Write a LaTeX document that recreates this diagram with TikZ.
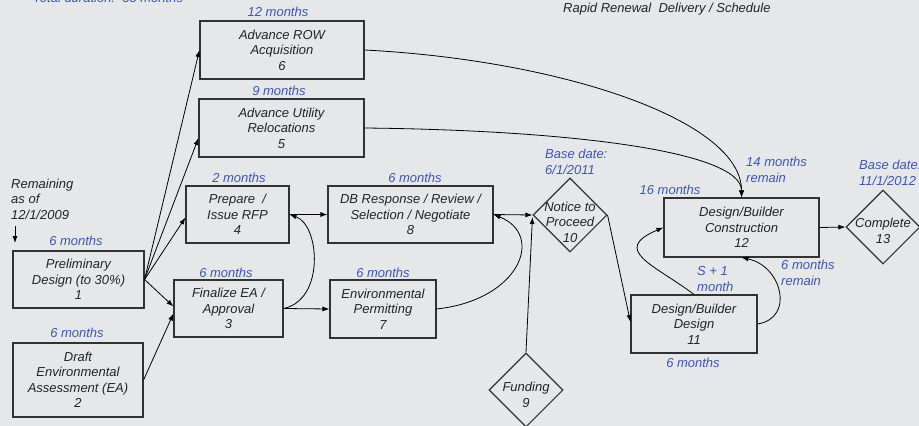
\documentclass[tikz,border=0pt]{standalone}
\usepackage{fontspec}
\setmainfont{Liberation Sans}
\usetikzlibrary{arrows.meta,shapes.geometric}
\definecolor{bg}{RGB}{230,231,233}
\definecolor{lblue}{RGB}{60,86,178}
\definecolor{ink}{RGB}{35,35,35}
\definecolor{edge}{RGB}{50,50,50}
\tikzset{
  txt/.style={font=\fontsize{13}{15.5}\selectfont\itshape, text=ink, align=center, inner sep=0pt},
  lbl/.style={font=\fontsize{13}{15.5}\selectfont\itshape, text=lblue, align=center, inner sep=0pt},
  lbll/.style={font=\fontsize{13}{15.5}\selectfont\itshape, text=lblue, align=left, inner sep=0pt, anchor=west},
  box/.style={txt, draw=edge, line width=1.1pt},
  dia/.style={draw=edge, line width=1.1pt, shape=diamond, minimum width=74pt, minimum height=74pt, inner sep=0pt},
  arr/.style={draw=black, line width=0.8pt, -{Latex[length=7pt,width=5pt]}},
  ln/.style={draw=black, line width=0.8pt}
}
\begin{document}
\begin{tikzpicture}[x=1pt,y=-1pt]
\fill[bg] (0,0) rectangle (919,426);
\useasboundingbox (0,0) rectangle (919,426);

% header texts
\node[lbl, anchor=base west] (total) at (33,2.5) {Total duration:\ \ 35 months};
\node[txt, anchor=base west] (title) at (563,12) {Rapid Renewal\ \ Delivery / Schedule};

% boxes
\node[box, minimum width=164pt, minimum height=58pt] (b6) at (282,50) {Advance ROW\\Acquisition\\6};
\node[box, minimum width=165pt, minimum height=58pt] (b5) at (281.5,128) {Advance Utility\\Relocations\\5};
\node[box, minimum width=103pt, minimum height=57pt] (b4) at (237.5,214.5) {Prepare\ \ /\\Issue RFP\\4};
\node[box, minimum width=109pt, minimum height=57pt] (b3) at (228.5,308.5) {Finalize EA /\\Approval\\3};
\node[box, minimum width=131pt, minimum height=57pt] (b1) at (78.5,279.5) {Preliminary\\Design (to 30\%)\\1};
\node[box, minimum width=130pt, minimum height=74pt] (b2) at (78,380) {Draft\\Environmental\\Assessment (EA)\\2};
\node[box, minimum width=165pt, minimum height=57pt] (b8) at (410.5,214.5) {DB Response / Review /\\Selection / Negotiate\\8};
\node[box, minimum width=106pt, minimum height=58pt] (b7) at (383,309) {Environmental\\Permitting\\7};
\node[box, minimum width=126pt, minimum height=58pt] (b11) at (694,324) {Design/Builder\\Design\\11};
\node[box, minimum width=155pt, minimum height=59pt] (b12) at (741.5,227.5) {Design/Builder\\Construction\\12};

% diamonds
\node[dia] (d10) at (570,215) {};
\node[txt] (t10) at (570,222) {Notice to\\Proceed\\10};
\node[dia] (d9) at (526,390) {};
\node[txt] (t9) at (526,395) {Funding\\9};
\node[dia] (d13) at (883,227) {};
\node[txt] (t13) at (883,231) {Complete\\13};

% duration labels
\node[lbl] (l6) at (278,12) {12 months};
\node[lbl] (l5) at (279,91) {9 months};
\node[lbl] (l4) at (239,178) {2 months};
\node[lbl] (l3) at (226,273) {6 months};
\node[lbl] (l1) at (76,241) {6 months};
\node[lbl] (l2) at (77,333) {6 months};
\node[lbl] (l8) at (415,178) {6 months};
\node[lbl] (l7) at (383,273) {6 months};
\node[lbl] (l12) at (670,190) {16 months};
\node[lbl] (l11) at (693,363) {6 months};
\node[lbll] (base1) at (545,162) {Base date:\\6/1/2011};
\node[lbll] (base2) at (859,173) {Base date:\\11/1/2012};
\node[lbll] (rem14) at (746,170) {14 months\\remain};
\node[lbll] (s1) at (697,279) {S + 1\\month};
\node[lbll] (rem6) at (781,273) {6 months\\remain};
\node[txt, align=left, anchor=west] (remaining) at (11,199) {Remaining\\as of\\12/1/2009};
\coordinate (r1) at (15,226);
\coordinate (r2) at (15,243);
\draw[arr] (r1) -- (r2);

% connectors
\draw[arr] (b1.east) -- (b6.west);
\draw[arr] (b1.east) -- ([yshift=-10pt]b5.west);
\draw[arr] (b1.east) -- ([yshift=-3pt]b4.west);
\draw[arr] (b1.east) -- ([yshift=2pt]b3.west);
\draw[arr] (b2.east) -- ([yshift=-5pt]b3.west);
\draw[arr] (b4.east) -- (b8.west);
\draw[arr] (b3.east) -- (b7.west);
\draw[arr] (b3.east) .. controls (325,300) and (320,225) .. (b4.east);
\draw[arr] (b7.east) .. controls (520,300) and (545,235) .. (b8.east);
\draw[arr] (b8.east) -- (d10.west);
\draw[arr] (d9.north) -- ([yshift=-2pt]d10.west);
\draw[arr] (d10.east) -- ([yshift=2pt]b11.west);
\draw[arr] (b6.east) .. controls (560,60) and (742,120) .. (b12.north);
\draw[arr] (b5.east) .. controls (560,130) and (742,150) .. (b12.north);
\draw[arr] (b11.north) .. controls (655,265) and (610,250) .. (b12.west);
\draw[arr] (b11.east) .. controls (795,318) and (782,266) .. (b12.south);
\draw[arr] (b12.east) -- (d13.west);
\end{tikzpicture}
\end{document}
